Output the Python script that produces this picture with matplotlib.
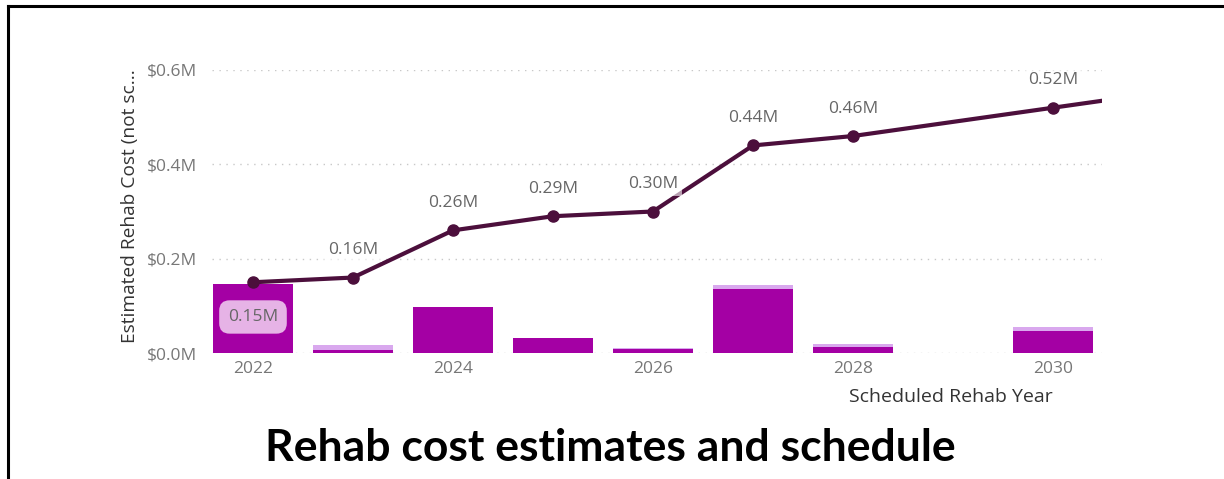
import numpy as np
import matplotlib.pyplot as plt
from matplotlib.lines import Line2D

plt.rcParams['font.family'] = ['Open Sans', 'DejaVu Sans']

# 年度维修费用（深色 = 已计划，浅色 = 追加部分）
years = [2022, 2023, 2024, 2025, 2026, 2027, 2028, 2029, 2030]
cost_main = [0.146, 0.007, 0.098, 0.032, 0.008, 0.136, 0.012, 0.0, 0.047]
cost_extra = [0.0, 0.010, 0.0, 0.0, 0.003, 0.008, 0.007, 0.0, 0.008]

# 累计费用折线（单位：百万美元）
cum_years = [2022, 2023, 2024, 2025, 2026, 2027, 2028, 2030, 2031]
cum_cost = [0.15, 0.16, 0.26, 0.29, 0.30, 0.44, 0.46, 0.52, 0.55]

y_ticks = [0.0, 0.2, 0.4, 0.6]
x_ticks = [2022, 2024, 2026, 2028, 2030]

BAR_DARK = '#A400A4'
BAR_LIGHT = '#D9A8EE'
LINE_COLOR = '#4C0F3C'
TICK_COLOR = '#777777'

fig = plt.figure(figsize=(12.24, 4.79), dpi=100)
ax = fig.add_axes([0.1732, 0.2630, 0.7271, 0.5909])

ax.bar(years, cost_main, width=0.8, color=BAR_DARK, zorder=2)
ax.bar(years, cost_extra, width=0.8, bottom=cost_main, color=BAR_LIGHT, zorder=2)

ax.plot(cum_years, cum_cost, '-o', color=LINE_COLOR, lw=3, markersize=8,
        zorder=3, clip_on=True)

# 数据标签
for i, (x, v) in enumerate(zip(cum_years, cum_cost)):
    if x > 2030.4:
        continue
    if i == 0:
        ax.annotate(f'{v:.2f}M', (x, v), xytext=(0, -25), textcoords='offset points',
                    ha='center', va='center', fontsize=12.5, color='#666666', zorder=4,
                    bbox=dict(boxstyle='round,pad=0.5,rounding_size=0.6',
                              facecolor='#E6B3E6', edgecolor='none'))
    else:
        ax.annotate(f'{v:.2f}M', (x, v), xytext=(0, 14), textcoords='offset points',
                    ha='center', va='bottom', fontsize=12.5, color='#666666', zorder=4,
                    bbox=dict(boxstyle='square,pad=0.25', facecolor='white',
                              edgecolor='none', alpha=0.6))

ax.set_xlim(2021.59, 2030.49)
ax.set_ylim(0, 0.6)
ax.set_yticks(y_ticks)
ax.set_yticklabels([f'${v:.1f}M' for v in y_ticks])
ax.set_xticks(x_ticks)
ax.set_xticklabels([str(x) for x in x_ticks])
ax.tick_params(length=0, labelsize=12.5, colors=TICK_COLOR)
ax.tick_params(axis='y', pad=11)
ax.tick_params(axis='x', pad=6)

ax.grid(axis='y', color='#C8C8C8', lw=1, linestyle=(0, (1, 4)), zorder=0)
ax.set_axisbelow(True)
for s in ax.spines.values():
    s.set_visible(False)

fig.text(130 / 1224, 1 - 206 / 479, 'Estimated Rehab Cost (not sc...', rotation=90,
         ha='center', va='center', fontsize=13.8, color='#333333')
fig.text(1053 / 1224, 1 - 397 / 479, 'Scheduled Rehab Year', ha='right', va='center',
         fontsize=14, color='#333333')

fig.text(610 / 1224, 1 - 448 / 479, 'Rehab cost estimates and schedule',
         ha='center', va='center', fontsize=32, fontweight='bold', color='black',
         family=['Lato', 'DejaVu Sans'])

# 外框：上边与左边
fig.add_artist(Line2D([8 / 1224, 1], [1 - 6 / 479, 1 - 6 / 479],
                      transform=fig.transFigure, color='black', lw=2.2))
fig.add_artist(Line2D([8 / 1224, 8 / 1224], [0, 1 - 6 / 479],
                      transform=fig.transFigure, color='black', lw=2.2))

fig.savefig('out.png', dpi=100)
